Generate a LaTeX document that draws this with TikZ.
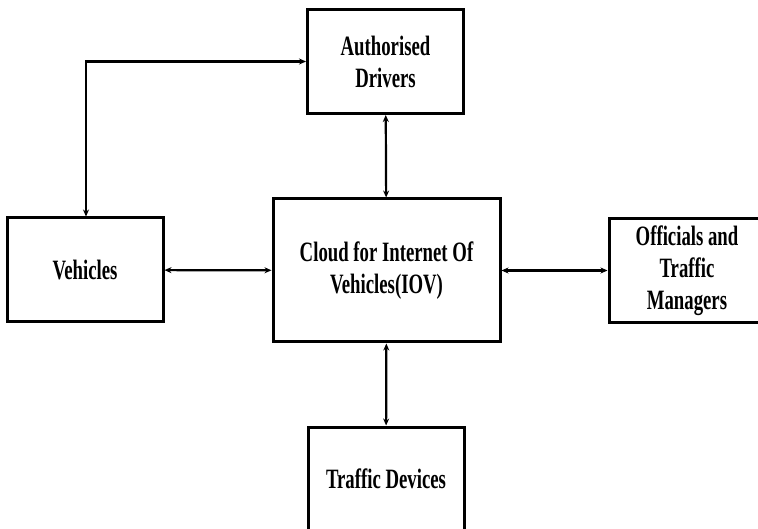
\documentclass[tikz,border=0pt]{standalone}
\usepackage{fontspec}
\setmainfont{Liberation Serif}[FakeStretch=0.67]
\usetikzlibrary{arrows.meta}
\tikzset{
  block/.style={draw, line width=3pt, minimum width=156pt, minimum height=104pt,
    align=center, font=\bfseries\fontsize{28}{32}\selectfont, inner sep=0pt},
  link/.style={line width=2.2pt, {Stealth[length=7pt,width=6pt]}-{Stealth[length=7pt,width=6pt]}}
}
\begin{document}
\begin{tikzpicture}[x=1pt,y=-1pt]
\clip (0,0) rectangle (758,529);
\fill[white] (0,0) rectangle (758,529);
% boxes
\node[block] (drivers) at (385.5,61.5) {Authorised\\Drivers};
\node[block] (vehicles) at (85,270) {Vehicles};
\node[block, minimum width=227pt, minimum height=143pt] (cloud) at (386.5,270.5) {Cloud for Internet Of\\Vehicles(IOV)};
\node[block] (officials) at (687,270.5) {Officials and\\Traffic\\Managers};
\node[block] (devices) at (386,479) {Traffic Devices};
% links
\draw[link] (vehicles.north -| 86,0) |- (drivers.west);
\draw[link] (drivers) -- (cloud);
\draw[link] (vehicles) -- (cloud);
\draw[link] (cloud) -- (officials);
\draw[link] (cloud) -- (devices);
\end{tikzpicture}
\end{document}
